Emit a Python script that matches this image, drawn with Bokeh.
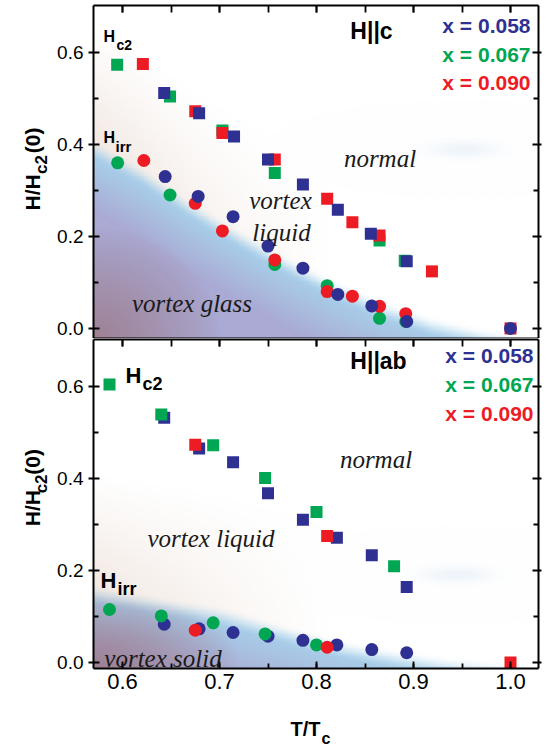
import numpy as np
from bokeh.plotting import figure
from bokeh.layouts import column, row
from bokeh.models import Range1d, LinearAxis, Label, FixedTicker, PrintfTickFormatter
from bokeh.embed import file_html
from bokeh.resources import INLINE

# ---------------- data ----------------
# Top panel: H || c
c_hc2_058_T = [0.643, 0.679, 0.715, 0.750, 0.786, 0.822, 0.856, 0.893]
c_hc2_058_H = [0.512, 0.468, 0.417, 0.367, 0.313, 0.258, 0.206, 0.146]
c_hc2_067_T = [0.5945, 0.649, 0.703, 0.757, 0.865, 0.891]
c_hc2_067_H = [0.573, 0.504, 0.430, 0.338, 0.191, 0.147]
c_hc2_090_T = [0.621, 0.675, 0.703, 0.757, 0.811, 0.837, 0.865, 0.919, 1.0]
c_hc2_090_H = [0.575, 0.472, 0.425, 0.367, 0.282, 0.231, 0.202, 0.124, 0.0]
c_irr_058_T = [0.644, 0.678, 0.714, 0.750, 0.786, 0.822, 0.857, 0.893, 1.0]
c_irr_058_H = [0.330, 0.287, 0.243, 0.179, 0.131, 0.074, 0.049, 0.015, 0.0]
c_irr_067_T = [0.595, 0.649, 0.757, 0.811, 0.865, 0.892]
c_irr_067_H = [0.360, 0.290, 0.139, 0.093, 0.022, 0.015]
c_irr_090_T = [0.622, 0.675, 0.703, 0.757, 0.811, 0.837, 0.865, 0.892]
c_irr_090_H = [0.365, 0.272, 0.212, 0.149, 0.080, 0.070, 0.048, 0.032]

# Bottom panel: H || ab
ab_hc2_058_T = [0.643, 0.679, 0.714, 0.750, 0.786, 0.821, 0.857, 0.893]
ab_hc2_058_H = [0.532, 0.465, 0.435, 0.368, 0.310, 0.271, 0.233, 0.164]
ab_hc2_067_T = [0.5866, 0.640, 0.6935, 0.747, 0.800, 0.880]
ab_hc2_067_H = [0.604, 0.539, 0.472, 0.401, 0.327, 0.209]
ab_hc2_090_T = [0.675, 0.811, 1.0]
ab_hc2_090_H = [0.473, 0.275, 0.0]
ab_irr_058_T = [0.643, 0.679, 0.714, 0.750, 0.786, 0.821, 0.857, 0.893]
ab_irr_058_H = [0.083, 0.073, 0.065, 0.057, 0.048, 0.038, 0.028, 0.021]
ab_irr_067_T = [0.5866, 0.640, 0.6935, 0.747, 0.800]
ab_irr_067_H = [0.115, 0.101, 0.086, 0.062, 0.038]
ab_irr_090_T = [0.675, 0.811]
ab_irr_090_H = [0.070, 0.033]

# shaded region boundaries (vortex glass / solid edge)
c_shade_T = [0.55, 0.57, 0.62, 0.67, 0.72, 0.77, 0.82, 0.87, 0.92, 0.97, 1.05]
c_shade_H = [0.42, 0.40, 0.34, 0.268, 0.205, 0.145, 0.092, 0.047, 0.012, -0.012, -0.04]
ab_shade_T = [0.55, 0.57, 0.63, 0.70, 0.79, 0.83, 0.88, 0.93, 1.0, 1.05]
ab_shade_H = [0.165, 0.157, 0.135, 0.11, 0.057, 0.035, 0.016, 0.0, -0.015, -0.03]

x_ticks = [0.6, 0.7, 0.8, 0.9, 1.0]
x_minor = [0.6, 0.65, 0.7, 0.75, 0.8, 0.85, 0.9, 0.95, 1.0]
y_ticks = [0.0, 0.2, 0.4, 0.6]
y_minor = [0.1, 0.3, 0.5]
series_labels = ["x = 0.058", "x = 0.067", "x = 0.090"]

BLUE, GREEN, RED = "#2E3192", "#00A651", "#ED1C24"
COLORS = [BLUE, GREEN, RED]

# ---------------- geometry ----------------
LW = 54            # width of the left strip holding the y titles
FL, FW = 93, 445   # frame left (page px) and width
PXU, PYU = 970.0, 460.0
X0 = 0.6 - 29 / PXU
X1 = X0 + FW / PXU
TOP_FH, BOT_FH = 333, 329
TOP_H, BOT_H, XT_H = 338, 370, 38
YT1 = 0.702
YT0 = YT1 - TOP_FH / PYU
YB1 = 0.702
YB0 = YB1 - BOT_FH / PYU


def dx(px):
    return X0 + (px - FL) / PXU


def dy_top(py):
    return YT1 - (py - 5) / PYU


def dy_bot(py):
    return YB1 - (py - 339) / PYU


def shade_image(bx, by, y0, y1, blob, corner_w, corner_h):
    nx, ny = 260, 200
    xs = np.linspace(X0, X1, nx)
    ys = np.linspace(y0, y1, ny)
    XX, YY = np.meshgrid(xs, ys)
    b = np.interp(XX, bx, by)
    d = b - YY
    white = np.array([255.0, 255.0, 255.0])
    blue = np.array([168.0, 213.0, 238.0])
    lav = np.array([170.0, 170.0, 212.0])
    mauve = np.array([158.0, 130.0, 150.0])
    peach = np.array([238.0, 225.0, 217.0])
    t = np.clip(d / 0.15, 0, 1)[..., None]
    cb = blue * (1 - t) + lav * t
    k = np.clip(1 - np.hypot((XX - X0) / corner_w, (YY - y0) / corner_h), 0, 1) ** 0.8
    k = k[..., None]
    cb = cb * (1 - k) + mauve * k
    w = (np.clip(1 - (XX - X0) / 0.24, 0, 1) * np.clip(1 - (-d) / 0.25, 0, 1)) * 0.75
    w = w[..., None]
    ca = white * (1 - w) + peach * w
    g = np.exp(-(((XX - blob[0]) / 0.035) ** 2 + ((YY - blob[1]) / 0.018) ** 2)) * 0.5
    g = g[..., None]
    ca = ca * (1 - g) + np.array([222.0, 234.0, 246.0]) * g
    s = np.clip((d + 0.012) / 0.045, 0, 1)
    s = (s * s * (3 - 2 * s))[..., None]
    col = ca * (1 - s) + cb * s
    rgba = np.zeros((ny, nx, 4), dtype=np.uint8)
    rgba[..., :3] = np.clip(col, 0, 255).astype(np.uint8)
    rgba[..., 3] = 255
    return rgba.view(np.uint32).reshape(ny, nx)


def style_axis(ax, tick_in, tick_out, minor_in, labels, size="19px", standoff=5):
    ax.axis_line_color = "black"
    ax.axis_line_width = 2
    ax.major_tick_line_color = "black"
    ax.minor_tick_line_color = "black"
    ax.major_tick_line_width = 1.8
    ax.minor_tick_line_width = 1.8
    ax.major_tick_in = tick_in
    ax.major_tick_out = tick_out
    ax.minor_tick_in = minor_in
    ax.minor_tick_out = 0
    ax.formatter = PrintfTickFormatter(format="%.1f")
    if labels:
        ax.major_label_text_font = "Liberation Sans"
        ax.major_label_text_font_size = size
        ax.major_label_text_color = "black"
        ax.major_label_standoff = standoff
    else:
        ax.major_label_text_font_size = "0px"
        ax.major_label_standoff = 0
        ax.major_label_text_alpha = 0


def make_fig(height, fh, y0, y1, top_border, bottom_border, xr):
    p = figure(width=548 - LW, height=height, frame_width=FW, frame_height=fh,
               x_range=xr, y_range=Range1d(y0, y1), title_location=None,
               output_backend="svg", toolbar_location=None,
               min_border_left=FL - LW, min_border_right=10,
               min_border_top=top_border, min_border_bottom=bottom_border)
    p.grid.visible = False
    p.outline_line_color = None
    p.background_fill_color = "white"
    p.border_fill_color = "white"
    return p


def text_fig(w, h):
    f = figure(width=w, height=h, x_range=Range1d(0, w), y_range=Range1d(0, h),
               output_backend="svg", toolbar_location=None, title_location=None,
               x_axis_location=None, y_axis_location=None, min_border=0)
    f.grid.visible = False
    f.outline_line_color = None
    f.background_fill_color = "white"
    f.border_fill_color = "white"
    return f


def lab(p, x, y, text, size, color="black", style="bold", font="Liberation Sans",
        align="left", baseline="alphabetic", angle=0.0):
    p.add_layout(Label(x=x, y=y, text=text, text_font=font, text_font_size=size,
                       text_font_style=style, text_color=color, text_align=align,
                       text_baseline=baseline, angle=angle))


xr = Range1d(X0, X1)

# ---------------- top panel ----------------
pt = make_fig(TOP_H, TOP_FH, YT0, YT1, 5, 0, xr)
pt.image_rgba(image=[shade_image(c_shade_T, c_shade_H, YT0, YT1, (0.952, 0.39), 0.13, 0.24)],
              x=X0, y=YT0, dw=X1 - X0, dh=YT1 - YT0)

top_sets = [
    (c_hc2_067_T, c_hc2_067_H, c_irr_067_T, c_irr_067_H, GREEN),
    (c_hc2_090_T, c_hc2_090_H, c_irr_090_T, c_irr_090_H, RED),
    (c_hc2_058_T, c_hc2_058_H, c_irr_058_T, c_irr_058_H, BLUE),
]
for hx, hy, ix, iy, col in top_sets:
    pt.scatter(hx, hy, marker="square", size=12, color=col, line_color=None)
for hx, hy, ix, iy, col in top_sets:
    pt.scatter(ix, iy, marker="circle", size=13, color=col, line_color=None)

# ---------------- bottom panel ----------------
pb = make_fig(BOT_H, BOT_FH, YB0, YB1, 1, BOT_H - 1 - BOT_FH, xr)
pb.image_rgba(image=[shade_image(ab_shade_T, ab_shade_H, YB0, YB1, (0.945, 0.19), 0.15, 0.18)],
              x=X0, y=YB0, dw=X1 - X0, dh=YB1 - YB0)
bot_sets = [
    (ab_hc2_058_T, ab_hc2_058_H, ab_irr_058_T, ab_irr_058_H, BLUE),
    (ab_hc2_067_T, ab_hc2_067_H, ab_irr_067_T, ab_irr_067_H, GREEN),
    (ab_hc2_090_T, ab_hc2_090_H, ab_irr_090_T, ab_irr_090_H, RED),
]
for hx, hy, ix, iy, col in bot_sets:
    pb.scatter(hx, hy, marker="square", size=12, color=col, line_color=None)
    pb.scatter(ix, iy, marker="circle", size=13, color=col, line_color=None)

# ---------------- axes ----------------
for p, is_top in ((pt, True), (pb, False)):
    p.add_layout(LinearAxis(), "above")
    p.add_layout(LinearAxis(), "right")
    for ax in p.xaxis:
        ax.ticker = FixedTicker(ticks=x_ticks, minor_ticks=x_minor)
    for ax in p.yaxis:
        ax.ticker = FixedTicker(ticks=y_ticks, minor_ticks=y_minor)
    style_axis(p.below[0], 0 if is_top else 7, 0, 0 if is_top else 5, not is_top, "22px", 5)
    style_axis(p.above[0], 7, 0, 7, False)
    style_axis(p.left[0], 6, 5, 5, True, "19px", 5)
    style_axis(p.right[0], 6, 3, 5, False)

# ---------------- texts: top ----------------
IT = "Liberation Serif"
DARK = "#1a1a1a"
lab(pt, dx(103), dy_top(36), "H", "16px")
lab(pt, dx(116), dy_top(44), "c2", "14px")
lab(pt, dx(103), dy_top(137), "H", "16px")
lab(pt, dx(115), dy_top(146), "irr", "15px")
lab(pt, dx(371), dy_top(30), "H||c", "23px", align="center", baseline="middle")
for i, (t, c) in enumerate(zip(series_labels, COLORS)):
    lab(pt, dx(530), dy_top(25 + 28.5 * i), t, "21px", color=c, align="right", baseline="middle")
lab(pt, dx(379.5), dy_top(158), "normal", "25px", color=DARK, style="italic", font=IT, align="center")
lab(pt, dx(280), dy_top(200), "vortex", "25px", color=DARK, style="italic", font=IT, align="center")
lab(pt, dx(281), dy_top(232), "liquid", "25px", color=DARK, style="italic", font=IT, align="center")
lab(pt, dx(191.5), dy_top(303), "vortex glass", "25px", color=DARK, style="italic", font=IT, align="center")

# ---------------- texts: bottom ----------------
lab(pb, dx(125), dy_bot(375), "H", "22px")
lab(pb, dx(142), dy_bot(383), "c2", "18px")
lab(pb, dx(100), dy_bot(580), "H", "22px")
lab(pb, dx(117), dy_bot(588), "irr", "18px")
lab(pb, dx(378), dy_bot(360), "H||ab", "23px", align="center", baseline="middle")
for i, (t, c) in enumerate(zip(series_labels, COLORS)):
    lab(pb, dx(533), dy_bot(355 + 29 * i), t, "21px", color=c, align="right", baseline="middle")
lab(pb, dx(375.5), dy_bot(459), "normal", "25px", color=DARK, style="italic", font=IT, align="center")
lab(pb, dx(210.5), dy_bot(538), "vortex liquid", "25px", color=DARK, style="italic", font=IT, align="center")
lab(pb, dx(162.5), dy_bot(658), "vortex solid", "25px", color=DARK, style="italic", font=IT, align="center")

# ---------------- axis titles (separate text strips) ----------------
ang = np.pi / 2
yl_top = text_fig(LW, TOP_H)
lab(yl_top, 32, TOP_H - 208, "H/H", "21px", angle=ang)
lab(yl_top, 41, TOP_H - 171, "c2", "17px", angle=ang)
lab(yl_top, 32, TOP_H - 150, "(0)", "21px", angle=ang)

yl_bot = text_fig(LW, BOT_H)
lab(yl_bot, 32, BOT_H - (548 - TOP_H), "H/H", "21px", angle=ang)
lab(yl_bot, 41, BOT_H - (511 - TOP_H), "c2", "17px", angle=ang)
lab(yl_bot, 32, BOT_H - (490 - TOP_H), "(0)", "21px", angle=ang)

xl = text_fig(548, XT_H)
base = TOP_H + BOT_H
lab(xl, 290, XT_H - (728 - base), "T/T", "20px")
lab(xl, 321, XT_H - (738 - base), "c", "16px")

layout = column(row(yl_top, pt, spacing=0), row(yl_bot, pb, spacing=0), xl, spacing=0)
open("out.html", "w").write(file_html(layout, INLINE))
